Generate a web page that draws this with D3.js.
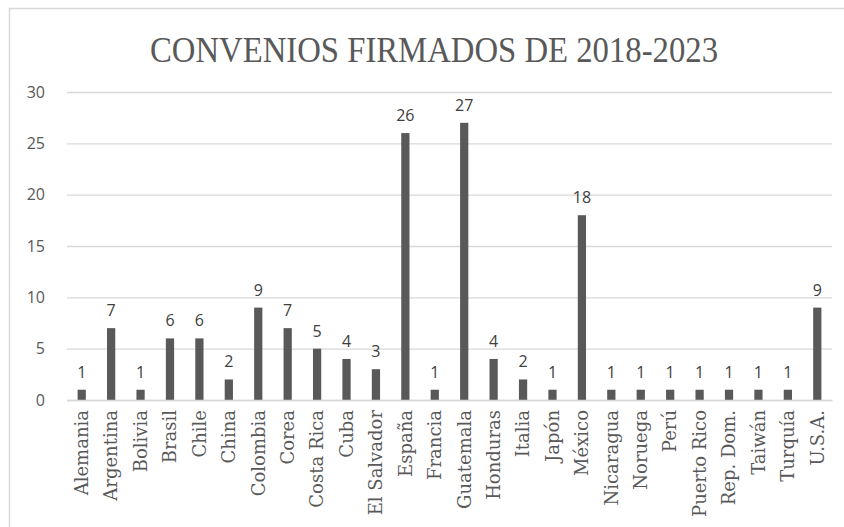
<!DOCTYPE html>
<html lang="es">
<head>
<meta charset="UTF-8">
<title>Convenios firmados de 2018-2023</title>
<style>
    body { margin: 0; background: #fff; }
    svg { display: block; }
</style>
</head>
<body>
<script src="https://cdn.jsdelivr.net/npm/d3@7"></script>
<script>

var paises = ["Alemania", "Argentina", "Bolivia", "Brasil", "Chile", "China", "Colombia",
              "Corea", "Costa Rica", "Cuba", "El Salvador", "España", "Francia", "Guatemala",
              "Honduras", "Italia", "Japón", "México", "Nicaragua", "Noruega", "Perú",
              "Puerto Rico", "Rep. Dom.", "Taiwán", "Turquía", "U.S.A."];
var convenios = [1, 7, 1, 6, 6, 2, 9, 7, 5, 4, 3, 26, 1, 27, 4, 2, 1, 18, 1, 1, 1, 1, 1, 1, 1, 9];
var yTicks = [0, 5, 10, 15, 20, 25, 30];
var titulo = "CONVENIOS FIRMADOS DE 2018-2023";

var data = paises.map(function(p, i) { return { pais: p, valor: convenios[i] }; });

var W = 844, H = 527;
var margin = { top: 92, right: 12, bottom: 127, left: 67 };
var width = W - margin.left - margin.right,
    height = H - margin.top - margin.bottom;

var svg = d3.select("body").append("svg")
    .attr("width", W)
    .attr("height", H);

// marco del grafico (cortado a la derecha y abajo)
svg.append("rect")
    .attr("x", 9.5).attr("y", 8.5)
    .attr("width", W + 20).attr("height", H + 20)
    .attr("fill", "none")
    .attr("stroke", "#d9d9d9")
    .attr("stroke-width", 1.5);

svg.append("text")
    .attr("x", 434)
    .attr("y", 62)
    .attr("text-anchor", "middle")
    .attr("textLength", 568)
    .attr("lengthAdjust", "spacingAndGlyphs")
    .style("font-family", "'Liberation Serif', 'DejaVu Serif', serif")
    .style("font-size", "36px")
    .style("fill", "#595959")
    .text(titulo);

var g = svg.append("g")
    .attr("transform", "translate(" + margin.left + "," + margin.top + ")");

var x = d3.scaleBand()
    .domain(paises)
    .range([0, width])
    .paddingInner(0.72)
    .paddingOuter(0.36);

var y = d3.scaleLinear()
    .domain([0, 30])
    .range([height, 0]);

// lineas de cuadricula
var yAxis = d3.axisLeft(y).tickValues(yTicks).tickSize(-width).tickPadding(22);
g.append("g")
    .attr("class", "y axis")
    .call(yAxis)
    .call(function(s) {
        s.select(".domain").remove();
        s.selectAll(".tick line").attr("stroke", "#d9d9d9").attr("stroke-width", 1.3);
        s.selectAll(".tick text")
            .style("font-family", "'Open Sans', 'Noto Sans', sans-serif")
            .style("font-size", "16px")
            .style("fill", "#595959");
    });

g.selectAll(".bar")
    .data(data)
  .enter().append("rect")
    .attr("class", "bar")
    .attr("x", function(d) { return x(d.pais); })
    .attr("y", function(d) { return y(d.valor); })
    .attr("width", x.bandwidth())
    .attr("height", function(d) { return height - y(d.valor); })
    .attr("fill", "#595959");

g.selectAll(".etiqueta")
    .data(data)
  .enter().append("text")
    .attr("class", "etiqueta")
    .attr("x", function(d) { return x(d.pais) + x.bandwidth() / 2; })
    .attr("y", function(d) { return y(d.valor) - 12; })
    .attr("text-anchor", "middle")
    .style("font-family", "'Open Sans', 'Noto Sans', sans-serif")
    .style("font-size", "16px")
    .style("fill", "#404040")
    .text(function(d) { return d.valor; });

// eje x
var xAxis = d3.axisBottom(x).tickSize(0).tickPadding(0);
g.append("g")
    .attr("class", "x axis")
    .attr("transform", "translate(0," + height + ")")
    .call(xAxis)
    .call(function(s) {
        s.select(".domain").attr("stroke", "#d9d9d9").attr("stroke-width", 1.3);
        s.selectAll(".tick text")
            .attr("transform", "rotate(-90)")
            .attr("x", -10)
            .attr("y", 0)
            .attr("dy", "0.35em")
            .attr("text-anchor", "end")
            .style("font-family", "'DejaVu Serif', serif")
            .style("font-size", "18px")
            .style("fill", "#595959");
    });

</script>
</body>
</html>
